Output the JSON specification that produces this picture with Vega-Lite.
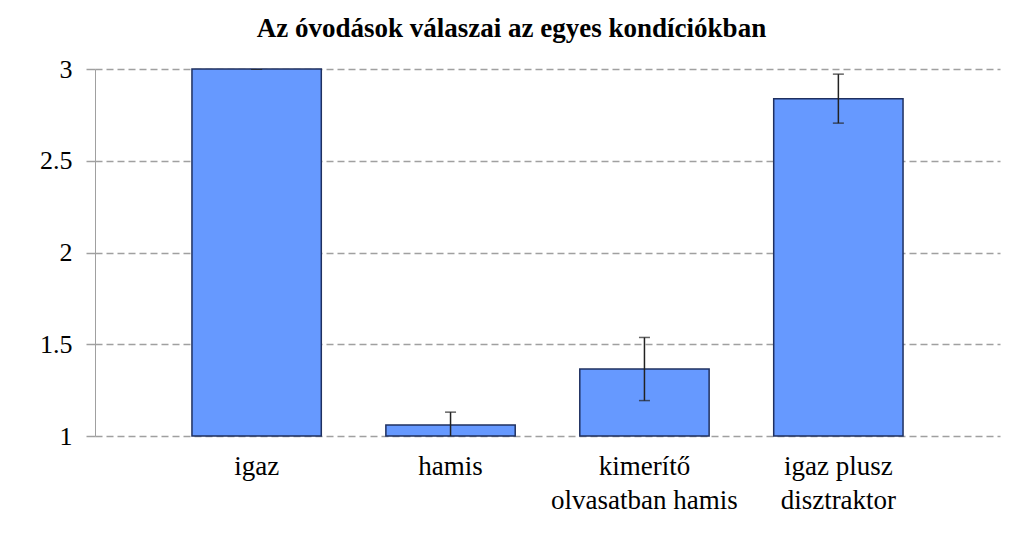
{
  "$schema": "https://vega.github.io/schema/vega-lite/v6.json",
  "autosize": "none",
  "width": 905,
  "height": 367,
  "padding": {"left": 95, "top": 69, "right": 24, "bottom": 122},
  "background": "white",
  "title": {
    "text": "Az óvodások válaszai az egyes kondíciókban",
    "font": "Liberation Serif",
    "fontSize": 27,
    "fontWeight": "bold",
    "color": "black",
    "anchor": "middle",
    "dx": -36,
    "offset": 13
  },
  "data": {
    "values": [
      {"kondicio": "igaz", "atlag": 3.0, "also": 3.0, "felso": 3.0},
      {"kondicio": "hamis", "atlag": 1.06, "also": 0.99, "felso": 1.13},
      {"kondicio": "kimerítő olvasatban hamis", "atlag": 1.365, "also": 1.193, "felso": 1.537},
      {"kondicio": "igaz plusz disztraktor", "atlag": 2.838, "also": 2.705, "felso": 2.972}
    ]
  },
  "encoding": {
    "x": {
      "field": "kondicio",
      "type": "nominal",
      "sort": null,
      "scale": {"paddingInner": 0.333, "paddingOuter": 0.5},
      "axis": {
        "title": null,
        "labelAngle": 0,
        "domain": false,
        "ticks": false,
        "labelPadding": 17,
        "labelFont": "Liberation Serif",
        "labelFontSize": 27,
        "labelColor": "black",
        "labelLineHeight": 34,
        "labelBaseline": "top",
        "labelLimit": 400,
        "labelExpr": "datum.value == 'kimerítő olvasatban hamis' ? ['kimerítő', 'olvasatban hamis'] : datum.value == 'igaz plusz disztraktor' ? ['igaz plusz', 'disztraktor'] : datum.value"
      }
    }
  },
  "layer": [
    {
      "mark": {"type": "bar", "color": "#6699ff", "stroke": "#1f3060", "strokeWidth": 1.5},
      "encoding": {
        "y": {
          "field": "atlag",
          "type": "quantitative",
          "scale": {"domain": [1, 3], "zero": false, "nice": false},
          "axis": {
            "title": null,
            "values": [1, 1.5, 2, 2.5, 3],
            "labelExpr": "datum.value",
            "grid": true,
            "gridColor": "#a0a0a0",
            "gridDash": [7, 4],
            "gridWidth": 1.5,
            "tickSize": 9,
            "tickColor": "#a0a0a0",
            "tickWidth": 1.5,
            "domainColor": "#a0a0a0",
            "domainWidth": 1,
            "labelPadding": 14,
            "labelFont": "Liberation Serif",
            "labelFontSize": 26,
            "labelColor": "black"
          }
        },
        "y2": {"datum": 1}
      }
    },
    {
      "mark": {"type": "rule", "color": "#222222", "strokeWidth": 1.5, "clip": true},
      "encoding": {
        "y": {"field": "also", "type": "quantitative"},
        "y2": {"field": "felso"}
      }
    },
    {
      "mark": {"type": "tick", "color": "#222222", "thickness": 1.5, "size": 11, "clip": true},
      "encoding": {"y": {"field": "felso", "type": "quantitative"}}
    },
    {
      "mark": {"type": "tick", "color": "#222222", "thickness": 1.5, "size": 11, "clip": true},
      "encoding": {"y": {"field": "also", "type": "quantitative"}}
    }
  ],
  "config": {"view": {"stroke": null}}
}
